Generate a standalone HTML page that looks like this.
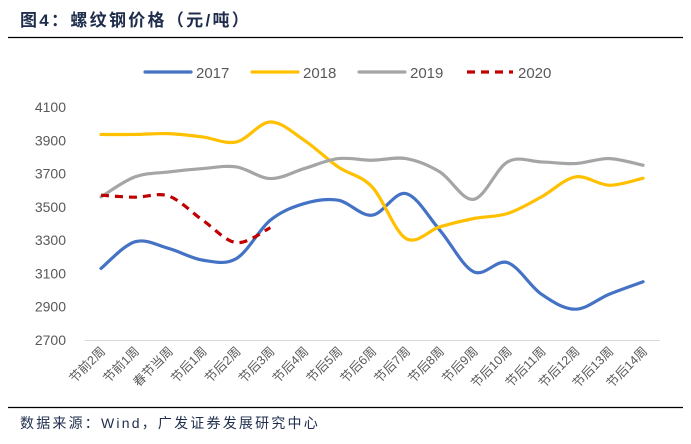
<!DOCTYPE html>
<html><head><meta charset="utf-8">
<style>
body{margin:0;background:#fff;}
svg{display:block;font-family:"Liberation Sans","Noto Sans CJK SC",sans-serif;}
</style></head>
<body>
<svg id="chart" width="691" height="444" viewBox="0 0 691 444">
<text x="20" y="26" font-size="17" font-weight="bold" fill="#1f2d4d" letter-spacing="2.3">图4：螺纹钢价格（元/吨）</text>
<line x1="8" y1="37.5" x2="683" y2="37.5" stroke="#000" stroke-width="1.2"/>
<line x1="8" y1="407.5" x2="683" y2="407.5" stroke="#000" stroke-width="1.2"/>
<text x="20" y="428" font-size="14" fill="#1f2d4d" letter-spacing="2.2">数据来源：Wind，广发证券发展研究中心</text>
<g id="legend"></g>
<g id="yaxis"></g>
<g id="xaxis"></g>
<g id="series"></g>
</svg>
<script>
const categories = ["节前2周","节前1周","春节当周","节后1周","节后2周","节后3周","节后4周","节后5周","节后6周","节后7周","节后8周","节后9周","节后10周","节后11周","节后12周","节后13周","节后14周"];
const s2017 = [3130,3290,3250,3180,3190,3420,3520,3540,3450,3580,3360,3110,3165,2975,2885,2975,3050];
const s2018 = [3935,3935,3940,3920,3890,4010,3900,3740,3620,3310,3380,3430,3460,3560,3680,3630,3672];
const s2019 = [3560,3680,3710,3730,3740,3670,3730,3790,3780,3790,3710,3545,3770,3770,3760,3790,3750];
const s2020 = [3570,3558,3565,3420,3285,3375];
const yTicks = [2700,2900,3100,3300,3500,3700,3900,4100];
const seriesNames = ["2017","2018","2019","2020"];

const NS="http://www.w3.org/2000/svg";
const x0=101, dx=33.88, yTop=107, yBot=340, vMin=2700, vMax=4100;
const xS=i=>x0+i*dx;
const yS=v=>yBot-(v-vMin)/(vMax-vMin)*(yBot-yTop);
function mk(t,a,p){const e=document.createElementNS(NS,t);for(const k in a)e.setAttribute(k,a[k]);p.appendChild(e);return e;}

const ya=document.getElementById('yaxis');
yTicks.forEach(v=>{
  const t=mk('text',{x:66,y:yS(v)+5,'text-anchor':'end','font-size':14,fill:'#595959'},ya);
  
  
  t.textContent=v;
});
const base=mk('line',{x1:85,y1:340.5,x2:660,y2:340.5,stroke:'#d9d9d9','stroke-width':1},ya);



const xa=document.getElementById('xaxis');
categories.forEach((c,i)=>{
  const x=xS(i)+5, y=352;
  const t=mk('text',{x:x,y:y,'text-anchor':'end','font-size':12.5,fill:'#595959',transform:`rotate(-45 ${x} ${y})`},xa);
  
  
  t.textContent=c;
});

function path(vals){
  const p=vals.map((v,i)=>[xS(i),yS(v)]);
  let d=`M${p[0][0]},${p[0][1]}`;
  for(let i=0;i<p.length-1;i++){
    const a=p[i-1]||p[i],b=p[i],c=p[i+1],e=p[i+2]||c;
    const c1=[b[0]+(c[0]-a[0])/6,b[1]+(c[1]-a[1])/6];
    const c2=[c[0]-(e[0]-b[0])/6,c[1]-(e[1]-b[1])/6];
    d+=` C${c1[0]},${c1[1]} ${c2[0]},${c2[1]} ${c[0]},${c[1]}`;
  }
  return d;
}
const sg=document.getElementById('series');
const styles=[{c:'#4472c4'},{c:'#ffc000'},{c:'#a5a5a5'},{c:'#c00000',dash:'8,6'}];
[s2017,s2018,s2019,s2020].forEach((vals,k)=>{
  const a={d:path(vals),fill:'none',stroke:styles[k].c,'stroke-width':3.2,'stroke-linecap':'round'};
  if(styles[k].dash){a['stroke-dasharray']=styles[k].dash;a['stroke-linecap']='butt';}
  const e=mk('path',a,sg);
  
  
});

const lg=document.getElementById('legend');
const lx=[145,252,359,467];
seriesNames.forEach((n,k)=>{
  const a={x1:lx[k],y1:72,x2:lx[k]+46,y2:72,stroke:styles[k].c,'stroke-width':3.2,'stroke-linecap':'round'};
  if(styles[k].dash){a['stroke-dasharray']='8,6';a['stroke-linecap']='butt';}
  const l=mk('line',a,lg);
  
  
  const t=mk('text',{x:lx[k]+51,y:78,'font-size':15,fill:'#595959'},lg);
  
  
  t.textContent=n;
});
</script>
</body></html>
